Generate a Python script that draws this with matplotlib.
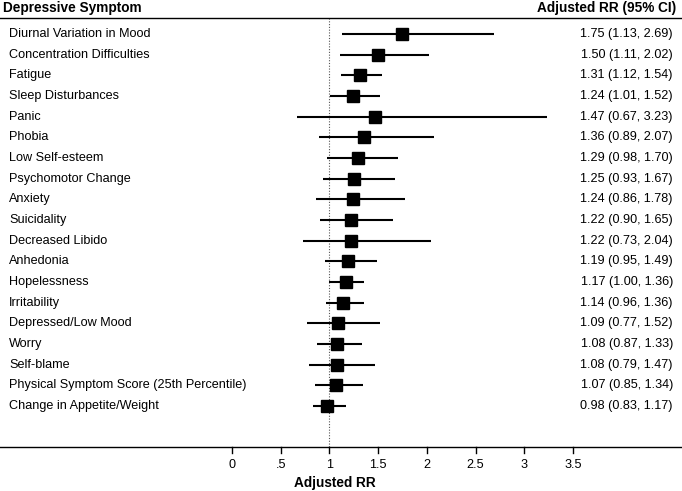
import matplotlib
matplotlib.use("Agg")
import matplotlib.pyplot as plt

symptoms = [
    "Diurnal Variation in Mood", "Concentration Difficulties", "Fatigue",
    "Sleep Disturbances", "Panic", "Phobia", "Low Self-esteem",
    "Psychomotor Change", "Anxiety", "Suicidality", "Decreased Libido",
    "Anhedonia", "Hopelessness", "Irritability", "Depressed/Low Mood",
    "Worry", "Self-blame", "Physical Symptom Score (25th Percentile)",
    "Change in Appetite/Weight",
]
rr = [1.75, 1.50, 1.31, 1.24, 1.47, 1.36, 1.29, 1.25, 1.24, 1.22, 1.22,
      1.19, 1.17, 1.14, 1.09, 1.08, 1.08, 1.07, 0.98]
lo = [1.13, 1.11, 1.12, 1.01, 0.67, 0.89, 0.98, 0.93, 0.86, 0.90, 0.73,
      0.95, 1.00, 0.96, 0.77, 0.87, 0.79, 0.85, 0.83]
hi = [2.69, 2.02, 1.54, 1.52, 3.23, 2.07, 1.70, 1.67, 1.78, 1.65, 2.04,
      1.49, 1.36, 1.36, 1.52, 1.33, 1.47, 1.34, 1.17]
xticks = [0, 0.5, 1, 1.5, 2, 2.5, 3, 3.5]
xticklabels = ["0", ".5", "1", "1.5", "2", "2.5", "3", "3.5"]

plt.rcParams['font.family'] = ['Liberation Sans', 'DejaVu Sans']

W, H = 682, 491
fig = plt.figure(figsize=(W / 100, H / 100), dpi=100)
ax = fig.add_axes([0, 0, 1, 1])

# pixel mapping
x0_px, unit_px = 232.0, 97.4
row0_px, row_px = 34.0, 20.67
ax.set_xlim(-x0_px / unit_px, (W - x0_px) / unit_px)
ax.set_ylim((H - row0_px) / row_px, -row0_px / row_px)
ax.axis("off")

def ypix(p):
    return (p - row0_px) / row_px

fs = 9.1
fsb = 9.8
n = len(symptoms)
ys = list(range(n))
xl = ax.get_xlim()

# reference line at 1
ax.plot([1, 1], [ypix(18), ypix(447)], color="#555555", lw=0.8, ls=(0, (1, 1.5)), zorder=1)

ax.hlines(ys, lo, hi, color="black", lw=1.5, zorder=2)
ax.plot(rr, ys, ls="none", marker="s", ms=8.2, color="black", zorder=3)

trans = ax.get_yaxis_transform()
for i, s in enumerate(symptoms):
    ax.text(9 / W, i, s, transform=trans, ha="left", va="center", fontsize=fs)
    ax.text(673 / W, i, f"{rr[i]:.2f} ({lo[i]:.2f}, {hi[i]:.2f})", transform=trans,
            ha="right", va="center", fontsize=fs)

# headers
ax.text(3 / W, ypix(8), "Depressive Symptom", transform=trans, ha="left", va="center",
        fontsize=fsb, fontweight="bold")
ax.text(676 / W, ypix(8), "Adjusted RR (95% CI)", transform=trans, ha="right", va="center",
        fontsize=fsb, fontweight="bold")
ax.plot(xl, [ypix(18), ypix(18)], color="black", lw=1.0)

# bottom axis
ya = ypix(447)
ax.plot(xl, [ya, ya], color="black", lw=1.0)
for t, lab in zip(xticks, xticklabels):
    ax.plot([t, t], [ya, ypix(453)], color="black", lw=1.0)
    ax.text(t, ypix(465), lab, ha="center", va="center", fontsize=fs)
ax.text((335 - x0_px) / unit_px, ypix(483), "Adjusted RR", ha="center", va="center",
        fontsize=fsb, fontweight="bold")

fig.savefig("out.png", dpi=100)
